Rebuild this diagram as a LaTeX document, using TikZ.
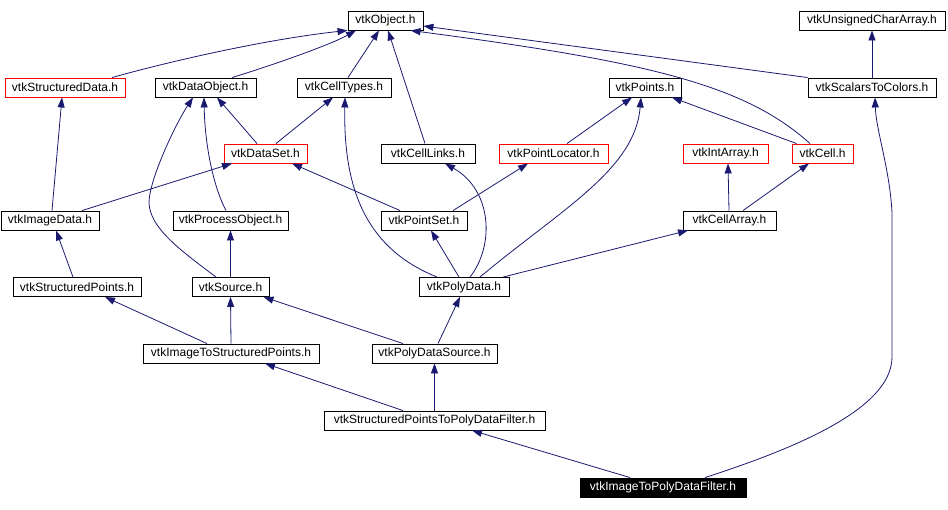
\documentclass[tikz,border=0pt]{standalone}
\usepackage{fontspec}
\setmainfont{Liberation Sans}
\usetikzlibrary{arrows.meta}
\definecolor{edgeNavy}{RGB}{25, 25, 112}
\definecolor{boxRed}{RGB}{255, 0, 0}

\begin{document}
\begin{tikzpicture}[x=1pt, y=-1pt,
    hdr/.style={draw=black, line width=0.9pt, inner sep=0pt, minimum height=19pt,
      font=\fontsize{12}{14}\selectfont},
    hdrRed/.style={hdr, draw=boxRed},
    hdrSel/.style={hdr, fill=black, text=white},
    dep/.style={draw=edgeNavy, line width=0.8pt, -{Triangle[length=10pt, width=7pt]}}]
  \useasboundingbox (0,0) rectangle (948,509);

  % row 1
  \node[hdr, minimum width=75pt] (obj) at (385.5,20.5) {vtkObject.h};
  \node[hdr, minimum width=146pt] (uca) at (872,20.5) {vtkUnsignedCharArray.h};
  % row 2
  \node[hdrRed, minimum width=120pt] (sd) at (65,87.5) {vtkStructuredData.h};
  \node[hdr, minimum width=101pt] (do) at (205.5,87.5) {vtkDataObject.h};
  \node[hdr, minimum width=94pt] (ct) at (344,87.5) {vtkCellTypes.h};
  \node[hdr, minimum width=72pt] (pts) at (645,87.5) {vtkPoints.h};
  \node[hdr, minimum width=128pt] (stc) at (872,87.5) {vtkScalarsToColors.h};
  % row 3
  \node[hdrRed, minimum width=83pt] (ds) at (265.5,153.5) {vtkDataSet.h};
  \node[hdr, minimum width=94pt] (cl) at (428,153.5) {vtkCellLinks.h};
  \node[hdrRed, minimum width=109pt] (pl) at (553.5,153.5) {vtkPointLocator.h};
  \node[hdrRed, minimum width=85pt] (ia) at (725.5,153.5) {vtkIntArray.h};
  \node[hdrRed, minimum width=61pt] (cell) at (822.5,153.5) {vtkCell.h};
  % row 4
  \node[hdr, minimum width=98pt] (id) at (50,220.5) {vtkImageData.h};
  \node[hdr, minimum width=115pt] (po) at (230.5,220.5) {vtkProcessObject.h};
  \node[hdr, minimum width=86pt] (ps) at (424,220.5) {vtkPointSet.h};
  \node[hdr, minimum width=93pt] (ca) at (729.5,220.5) {vtkCellArray.h};
  % row 5
  \node[hdr, minimum width=128pt] (sp) at (77,287) {vtkStructuredPoints.h};
  \node[hdr, minimum width=77pt] (src) at (230.5,287) {vtkSource.h};
  \node[hdr, minimum width=90pt] (pd) at (464,287) {vtkPolyData.h};
  % row 6
  \node[hdr, minimum width=176pt] (itsp) at (231,353.5) {vtkImageToStructuredPoints.h};
  \node[hdr, minimum width=125pt] (pds) at (434.5,353.5) {vtkPolyDataSource.h};
  % row 7
  \node[hdr, minimum width=221pt] (sptpdf) at (434.5,420.5) {vtkStructuredPointsToPolyDataFilter.h};
  % row 8
  \node[hdrSel, minimum width=166pt] (itpdf) at (663,487.5) {vtkImageToPolyDataFilter.h};

  % edges into vtkObject.h
  \draw[dep] ([xshift=47pt]sd.north) .. controls (160,64) and (260,40) .. (obj.south west);
  \draw[dep] ([xshift=26.5pt]do.north) .. controls (270,66) and (330,45) .. ([xshift=-29.5pt]obj.south);
  \draw[dep] ([xshift=4pt]ct.north) -- ([xshift=-6.5pt]obj.south);
  \draw[dep] ([xshift=-3pt]cl.north) -- ([xshift=2.5pt]obj.south);
  \draw[dep] (stc.north west) -- ([yshift=-5.5pt]obj.east);
  \draw[dep] ([xshift=-12.5pt]cell.north) .. controls (745,85) and (650,62) .. ([xshift=25pt]obj.south);
  \draw[dep] (stc.north) -- (uca.south);

  % row 3 and 4 edges
  \draw[dep] ([xshift=2pt]id.north) -- ([xshift=-3pt]sd.south);
  \draw[dep] ([xshift=32pt]id.north) -- ([xshift=-33.5pt]ds.south);
  \draw[dep] ([xshift=-8.5pt]ds.north) -- ([xshift=11.5pt]do.south);
  \draw[dep] ([xshift=10.5pt]ds.north) -- ([xshift=-11pt]ct.south);
  \draw[dep] ([xshift=-4.5pt]po.north) .. controls (215,190) and (205,150) .. ([xshift=-1.5pt]do.south);
  \draw[dep] ([xshift=-24pt]ps.north) -- ([xshift=26.5pt]ds.south);
  \draw[dep] ([xshift=29pt]ps.north) -- ([xshift=-25.5pt]pl.south);
  \draw[dep] ([xshift=13.5pt]pl.north) -- ([xshift=-13pt]pts.south);
  \draw[dep] ([xshift=-26pt]cell.north) -- ([xshift=27pt]pts.south);
  \draw[dep] ([xshift=-0.5pt]ca.north) -- ([xshift=2.5pt]ia.south);
  \draw[dep] ([xshift=13.5pt]ca.north) -- ([xshift=-13.5pt]cell.south);

  % row 5 edges
  \draw[dep] ([xshift=-4pt]sp.north) -- ([xshift=6pt]id.south);
  \draw[dep] ([xshift=-14.5pt]src.north) .. controls (180,250) and (150,228) .. (149,203)
    .. controls (149,180) and (175,125) .. ([xshift=-12.5pt]do.south);
  \draw[dep] (src.north) -- (po.south);
  \draw[dep] ([xshift=-5pt]pd.north) -- ([xshift=7pt]ps.south);
  \draw[dep] ([xshift=6pt]pd.north) .. controls (495,245) and (492,190) .. ([xshift=17pt]cl.south);
  \draw[dep] ([xshift=-27pt]pd.north) .. controls (370,250) and (343,195) .. ([xshift=1pt]ct.south);
  \draw[dep] ([xshift=16pt]pd.north) .. controls (560,210) and (635,170) .. ([xshift=-4pt]pts.south);
  \draw[dep] ([xshift=39pt]pd.north) -- ([xshift=-41.5pt]ca.south);

  % row 6 to 8 edges
  \draw[dep] ([xshift=-24pt]itsp.north) -- ([xshift=28pt]sp.south);
  \draw[dep] (itsp.north) -- (src.south);
  \draw[dep] ([xshift=-31.5pt]pds.north) -- ([xshift=33pt]src.south);
  \draw[dep] ([xshift=3.5pt]pds.north) -- ([xshift=-4pt]pd.south);
  \draw[dep] ([xshift=-31.5pt]sptpdf.north) -- ([xshift=34pt]itsp.south);
  \draw[dep] (sptpdf.north) -- (pds.south);
  \draw[dep] ([xshift=-33pt]itpdf.north) -- ([xshift=37.5pt]sptpdf.south);
  \draw[dep] ([xshift=42pt]itpdf.north) .. controls (790,450) and (892,410) .. (892,357)
    -- (892,213) .. controls (890,170) and (876,130) .. ([xshift=3pt]stc.south);
\end{tikzpicture}
\end{document}
